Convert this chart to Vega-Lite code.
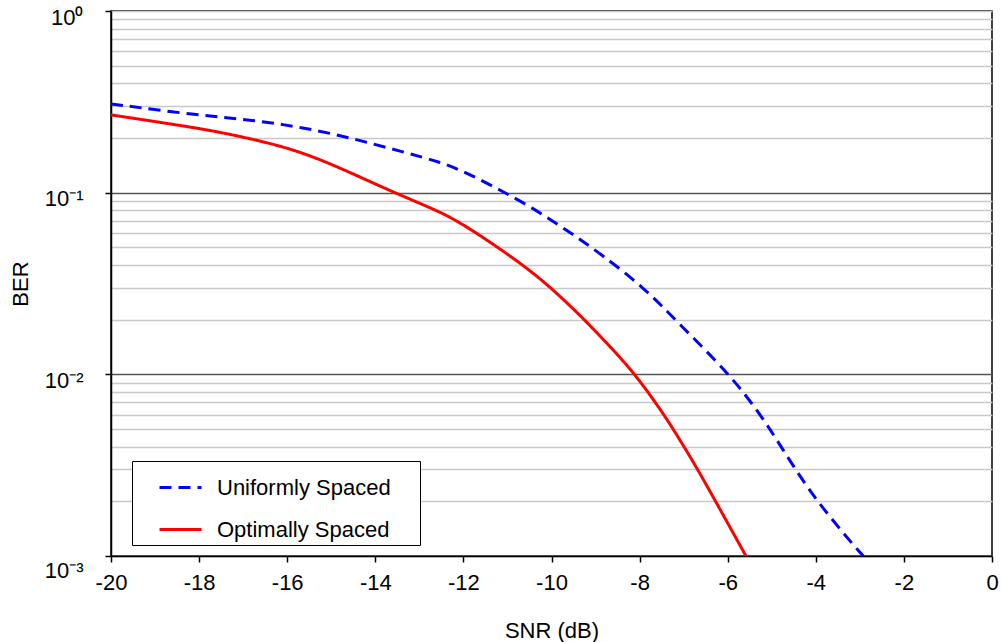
{
  "$schema": "https://vega.github.io/schema/vega-lite/v6.json",
  "width": 881,
  "height": 545,
  "autosize": "none",
  "padding": {"left": 111, "top": 11, "right": 9, "bottom": 86},
  "background": "white",
  "config": {
    "font": "Liberation Sans",
    "view": {"stroke": "black", "strokeWidth": 1.5}
  },
  "data": {
    "values": [
      {"series": "Uniformly Spaced", "snr": -20, "ber": 0.308},
      {"series": "Uniformly Spaced", "snr": -17.98, "ber": 0.266},
      {"series": "Uniformly Spaced", "snr": -16.8, "ber": 0.2512},
      {"series": "Uniformly Spaced", "snr": -15.65, "ber": 0.229},
      {"series": "Uniformly Spaced", "snr": -14.5, "ber": 0.199},
      {"series": "Uniformly Spaced", "snr": -13.4, "ber": 0.168},
      {"series": "Uniformly Spaced", "snr": -12.53, "ber": 0.148},
      {"series": "Uniformly Spaced", "snr": -11.9, "ber": 0.128},
      {"series": "Uniformly Spaced", "snr": -11.17, "ber": 0.1035},
      {"series": "Uniformly Spaced", "snr": -10.41, "ber": 0.082},
      {"series": "Uniformly Spaced", "snr": -9.66, "ber": 0.0623},
      {"series": "Uniformly Spaced", "snr": -8.9, "ber": 0.0464},
      {"series": "Uniformly Spaced", "snr": -7.86, "ber": 0.0295},
      {"series": "Uniformly Spaced", "snr": -7.08, "ber": 0.0187},
      {"series": "Uniformly Spaced", "snr": -5.95, "ber": 0.01},
      {"series": "Uniformly Spaced", "snr": -5.22, "ber": 0.00585},
      {"series": "Uniformly Spaced", "snr": -4.74, "ber": 0.00383},
      {"series": "Uniformly Spaced", "snr": -4.21, "ber": 0.00241},
      {"series": "Uniformly Spaced", "snr": -3.68, "ber": 0.00164},
      {"series": "Uniformly Spaced", "snr": -3.15, "ber": 0.00115},
      {"series": "Uniformly Spaced", "snr": -2.92, "ber": 0.001},
      {"series": "Optimally Spaced", "snr": -20, "ber": 0.268},
      {"series": "Optimally Spaced", "snr": -17.98, "ber": 0.226},
      {"series": "Optimally Spaced", "snr": -17.22, "ber": 0.2077},
      {"series": "Optimally Spaced", "snr": -16.47, "ber": 0.1892},
      {"series": "Optimally Spaced", "snr": -15.71, "ber": 0.168},
      {"series": "Optimally Spaced", "snr": -14.95, "ber": 0.142},
      {"series": "Optimally Spaced", "snr": -14.2, "ber": 0.1174},
      {"series": "Optimally Spaced", "snr": -13.44, "ber": 0.0971},
      {"series": "Optimally Spaced", "snr": -12.68, "ber": 0.0813},
      {"series": "Optimally Spaced", "snr": -12.08, "ber": 0.0692},
      {"series": "Optimally Spaced", "snr": -10.79, "ber": 0.0426},
      {"series": "Optimally Spaced", "snr": -10.03, "ber": 0.0304},
      {"series": "Optimally Spaced", "snr": -9.24, "ber": 0.0199},
      {"series": "Optimally Spaced", "snr": -8.6, "ber": 0.01365},
      {"series": "Optimally Spaced", "snr": -8.1, "ber": 0.01},
      {"series": "Optimally Spaced", "snr": -7.46, "ber": 0.0061},
      {"series": "Optimally Spaced", "snr": -6.99, "ber": 0.004},
      {"series": "Optimally Spaced", "snr": -6.63, "ber": 0.00285},
      {"series": "Optimally Spaced", "snr": -6.25, "ber": 0.00195},
      {"series": "Optimally Spaced", "snr": -5.87, "ber": 0.00133},
      {"series": "Optimally Spaced", "snr": -5.585, "ber": 0.001}
    ]
  },
  "mark": {"type": "line", "strokeWidth": 3, "interpolate": "basis", "clip": true},
  "encoding": {
    "x": {
      "field": "snr",
      "type": "quantitative",
      "scale": {"domain": [-20, 0], "nice": false, "zero": false},
      "axis": {
        "values": [-20, -18, -16, -14, -12, -10, -8, -6, -4, -2, 0],
        "labelExpr": "toString(datum.value)",
        "title": "SNR (dB)",
        "grid": false,
        "domainColor": "black",
        "domainWidth": 1.5,
        "tickColor": "black",
        "tickWidth": 1.5,
        "tickSize": 6,
        "labelFontSize": 22,
        "labelColor": "black",
        "labelPadding": 10,
        "labelFlush": false,
        "titleFontSize": 22,
        "titleFontWeight": "normal",
        "titleColor": "black",
        "titlePadding": 27
      }
    },
    "y": {
      "field": "ber",
      "type": "quantitative",
      "scale": {"type": "log", "domain": [0.001, 1], "nice": false},
      "axis": {
        "values": [0.001, 0.002, 0.003, 0.004, 0.005, 0.006, 0.007, 0.008, 0.009, 0.01, 0.02, 0.03, 0.04, 0.05, 0.06, 0.07, 0.08, 0.09, 0.1, 0.2, 0.3, 0.4, 0.5, 0.6, 0.7, 0.8, 0.9, 1],
        "title": "BER",
        "grid": true,
        "gridColor": {"condition": {"test": "datum.value === 0.1 || datum.value === 0.01", "value": "#555555"}, "value": "#c8c8c8"},
        "gridWidth": 1.5,
        "domainColor": "black",
        "domainWidth": 1.5,
        "tickColor": "black",
        "tickWidth": 1.5,
        "tickSize": {"condition": {"test": "datum.value === 1 || datum.value === 0.1 || datum.value === 0.01 || datum.value === 0.001", "value": 6}, "value": 0},
        "labelExpr": "datum.value === 1 ? '10⁰' : datum.value === 0.1 ? '10⁻¹' : datum.value === 0.01 ? '10⁻²' : datum.value === 0.001 ? '10⁻³' : ''",
        "labelFontSize": 22,
        "labelColor": "black",
        "labelPadding": 22,
        "labelOffset": {"condition": {"test": "datum.value === 0.001", "value": 14}, "value": 6},
        "labelFlush": false,
        "labelOverlap": false,
        "titleFontSize": 22,
        "titleFontWeight": "normal",
        "titleColor": "black",
        "titlePadding": 12
      }
    },
    "color": {
      "field": "series",
      "type": "nominal",
      "scale": {"domain": ["Uniformly Spaced", "Optimally Spaced"], "range": ["#0000ff", "#ff0000"]},
      "legend": {
        "title": null,
        "orient": "none",
        "legendX": 21,
        "legendY": 450,
        "strokeColor": "black",
        "fillColor": "white",
        "padding": 4,
        "symbolType": "stroke",
        "symbolSize": 1764,
        "symbolStrokeWidth": 3,
        "symbolOffset": 22,
        "labelFontSize": 22,
        "labelColor": "black",
        "labelOffset": 14,
        "labelLimit": 400,
        "labelExpr": "datum.label + '\u00a0\u00a0\u00a0\u00a0\u200b'",
        "rowPadding": 8
      }
    },
    "strokeDash": {
      "field": "series",
      "type": "nominal",
      "scale": {"domain": ["Uniformly Spaced", "Optimally Spaced"], "range": [[12, 7], [1, 0]]},
      "legend": {
        "title": null,
        "orient": "none",
        "legendX": 21,
        "legendY": 450,
        "strokeColor": "black",
        "fillColor": "white",
        "padding": 4,
        "symbolType": "stroke",
        "symbolSize": 1764,
        "symbolStrokeWidth": 3,
        "symbolOffset": 22,
        "labelFontSize": 22,
        "labelColor": "black",
        "labelOffset": 14,
        "labelLimit": 400,
        "labelExpr": "datum.label + '\u00a0\u00a0\u00a0\u00a0\u200b'",
        "rowPadding": 8
      }
    }
  }
}
